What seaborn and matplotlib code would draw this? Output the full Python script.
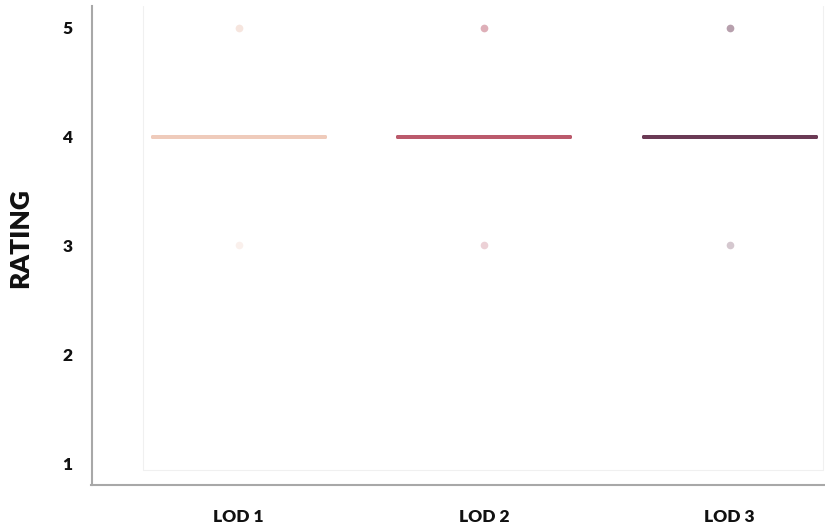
import matplotlib
matplotlib.use("Agg")
from matplotlib import pyplot as plt
import seaborn as sns
import pandas as pd

# ratings per level of detail (mostly 4, one 3 and two 5 each)
lod_names = ["LOD 1", "LOD 2", "LOD 3"]
lod1 = [3, 4, 4, 4, 4, 4, 4, 4, 4, 4, 5, 5]
lod2 = [3, 4, 4, 4, 4, 4, 4, 4, 4, 4, 5, 5]
lod3 = [3, 4, 4, 4, 4, 4, 4, 4, 4, 4, 5, 5]
colors = ["#efcbbb", "#bb5a6c", "#6b3a55"]

rows = []
for name, vals in zip(lod_names, [lod1, lod2, lod3]):
    for v in vals:
        rows.append({"lod": name, "rating": v})
df = pd.DataFrame(rows)

sns.set_style("white")
plt.rcParams['font.family'] = ['Lato', 'DejaVu Sans']

fig = plt.figure(figsize=(8.25, 5.28), dpi=100)
ax = fig.add_axes([0.1733, 0.1098, 0.8243, 0.879])

sns.boxplot(data=df, x="lod", y="rating", hue="lod", palette=colors,
            order=lod_names, hue_order=lod_names, fill=False, width=0.7,
            linewidth=2.8, legend=False, ax=ax,
            flierprops={"marker": "o", "markersize": 5.5, "alpha": 0.28},
            boxprops={"solid_capstyle": "round"},
            medianprops={"solid_capstyle": "round"})

# filled, borderless outlier dots
for ln in ax.lines:
    if ln.get_marker() == "o":
        c = ln.get_markeredgecolor()
        ln.set_markerfacecolor(c)
        ln.set_markeredgewidth(0)

ax.set_xlim(-0.39, 2.38)
ax.set_ylim(0.936, 5.2)
ax.set_yticks([1, 2, 3, 4, 5])

# faint plot-area edges (left, bottom, right)
ax.plot([0, 0, 1, 1], [1, 0, 0, 1], transform=ax.transAxes,
        color="#f0f0f0", linewidth=0.8, zorder=0, clip_on=False)

for s in ["top", "right"]:
    ax.spines[s].set_visible(False)
ax.spines["left"].set_position(("outward", 36.7))
ax.spines["bottom"].set_position(("outward", 10.8))
ax.spines["left"].set_bounds(0.798, 5.2)
ax.spines["bottom"].set_bounds(-0.6, 2.39)
for s in ["left", "bottom"]:
    ax.spines[s].set_color("#a8a8a8")
    ax.spines[s].set_linewidth(1.5)

ax.tick_params(axis="both", length=4, width=0.9, color="#a8a8a8",
               labelsize=12.5, labelcolor="#111111")
ax.tick_params(axis="y", pad=10)
ax.tick_params(axis="x", pad=13)
for lab in ax.get_xticklabels() + ax.get_yticklabels():
    lab.set_fontweight("heavy")

ax.set_xlabel("")
ax.set_ylabel("RATING", fontsize=19, fontweight="heavy", color="#111111")
ax.yaxis.set_label_coords(-0.163, 0.5)

fig.savefig("out.png", dpi=100)
